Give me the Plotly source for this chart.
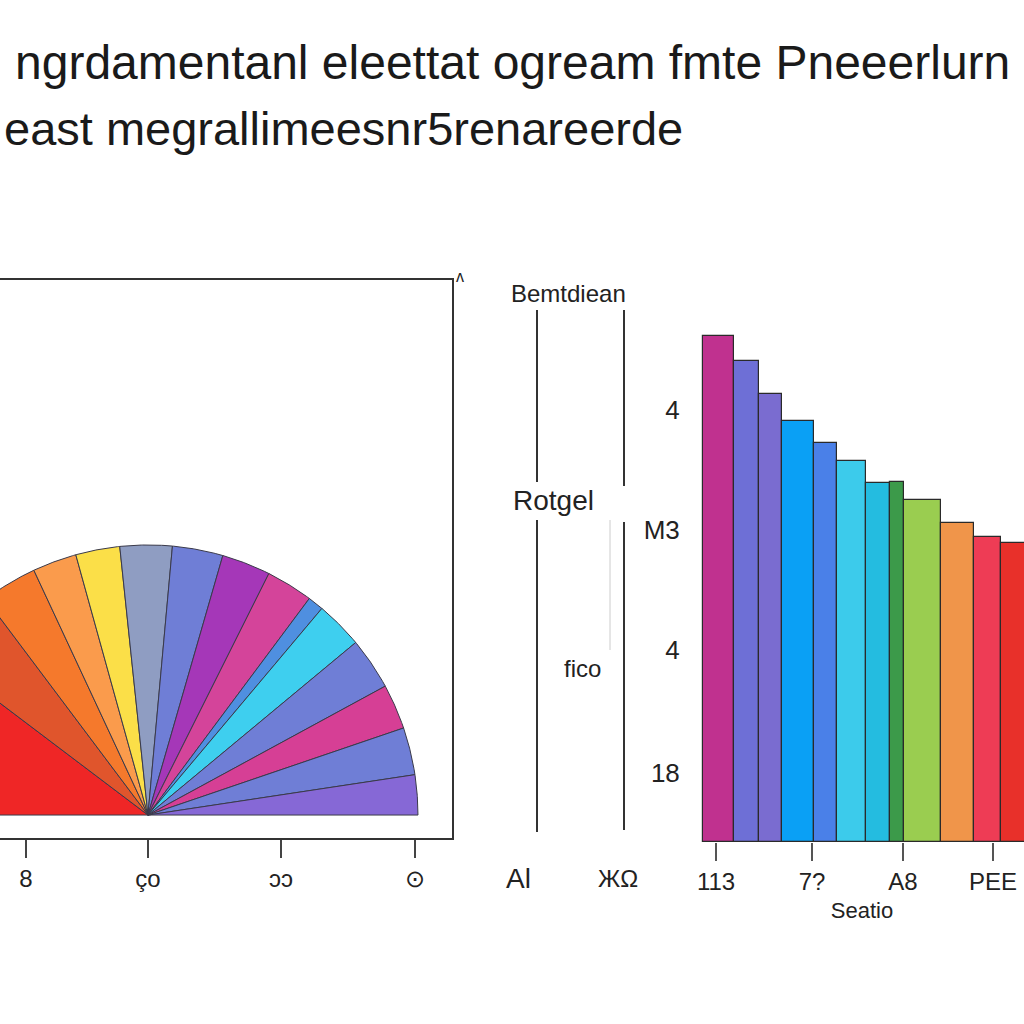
import numpy as np
import plotly.graph_objects as go

# ---------------- data ----------------
title_lines = ["ngrdamentanl eleettat ogream fmte Pneeerlurn",
               "east megrallimeesnr5renareerde"]

fan_labels = ["A", "B", "C", "D", "E", "F", "G", "H", "I", "J", "K", "L", "M", "N", "O"]
fan_degrees = [37.1, 16.0, 11.9, 9.5, 9.5, 11.2, 10.9, 10.5, 10.1, 3.4, 10.2, 11.2, 9.7, 10.2, 8.6]
fan_colors = ["#EF2626", "#E0552C", "#F5792C", "#FA9B4C", "#FBDF48", "#8F9DC2",
              "#6F7ED6", "#A537B8", "#D4449A", "#4F8FE0", "#3ECFEF", "#6F7ED6",
              "#D63F95", "#6F7ED6", "#8668D6"]
fan_tickvals = [-0.452, 0.0, 0.493, 0.989]
fan_ticktext = ["8", "ço", "ɔɔ", "⊙"]

bar_categories = ["b1", "b2", "b3", "b4", "b5", "b6", "b7", "b8", "b9", "b10", "b11", "b12"]
bar_widths = [31, 25, 23, 32, 23, 29, 24, 14, 37, 33, 27, 30]
bar_values = [506, 481, 448, 421, 399, 381, 359, 360, 342, 319, 305, 299]
bar_colors = ["#C0318F", "#6E6FD6", "#7A6CD0", "#0AA0F5", "#4A80E8", "#3CCBEB",
              "#24BCE0", "#3C9A4A", "#9ACD50", "#F0954A", "#EE3C55", "#E8302A"]
bar_tickvals = [13, 109, 200, 290]
bar_ticktext = ["113", "7?", "A8", "PEE"]
bar_ytickvals = [69, 192, 312, 432]
bar_yticktext = ["18", "4", "M3", "4"]

FONT = "Liberation Sans, Arial, sans-serif"
INK = "#222222"

fig = go.Figure()

# ---------------- fan (half pie) ----------------
start = 180.0
for lab, deg, col in zip(fan_labels, fan_degrees, fan_colors):
    a0, a1 = start, start - deg
    t = np.radians(np.linspace(a0, a1, 40))
    xs = np.concatenate([[0.0], np.cos(t), [0.0]])
    ys = np.concatenate([[0.0], np.sin(t), [0.0]])
    fig.add_trace(go.Scatter(x=xs, y=ys, fill="toself", fillcolor=col, mode="lines",
                             line=dict(color="#3a3a4a", width=1), name=lab,
                             showlegend=False, hoverinfo="name",
                             xaxis="x", yaxis="y"))
    start = a1

# ---------------- bars ----------------
lefts = np.concatenate([[0], np.cumsum(bar_widths)[:-1]])
centers = lefts + np.array(bar_widths) / 2.0
fig.add_trace(go.Bar(x=centers, y=bar_values, width=bar_widths,
                     marker=dict(color=bar_colors, line=dict(color="#2a2a2a", width=1.2)),
                     hovertext=bar_categories, showlegend=False,
                     xaxis="x2", yaxis="y2"))

def px(x):
    return x / 1024.0

def py(y):
    return 1 - y / 1024.0

fig.update_layout(
    width=1024, height=1024,
    margin=dict(l=0, r=0, t=0, b=0, autoexpand=False),
    paper_bgcolor="white", plot_bgcolor="white",
    font=dict(family=FONT, color=INK),
    bargap=0,
    xaxis=dict(domain=[0, px(452)], range=[-0.548, 1.126], anchor="y", automargin=False,
               showgrid=False, zeroline=False,
               showline=True, mirror=True, linecolor="#333333", linewidth=2,
               tickvals=fan_tickvals, ticktext=fan_ticktext, ticks="outside",
               ticklen=18, tickwidth=2, tickcolor="#444444", ticklabeloverflow="allow",
               tickfont=dict(size=24, color=INK)),
    yaxis=dict(domain=[py(838), py(280)], range=[-0.085, 1.981], anchor="x", automargin=False,
               showgrid=False, zeroline=False, showline=True, side="right",
               linecolor="#333333", linewidth=2, showticklabels=False, ticks=""),
    xaxis2=dict(domain=[px(700), 1.0], range=[-3, 321], anchor="y2", automargin=False,
                showgrid=False, zeroline=False,
                showline=False, tickvals=bar_tickvals, ticktext=bar_ticktext,
                ticks="outside", ticklen=18, tickwidth=1.5, tickcolor="#555555",
                ticklabeloverflow="allow",
                tickfont=dict(size=24, color=INK),
                title=dict(text="Seatio", font=dict(size=22, color=INK), standoff=8)),
    yaxis2=dict(domain=[py(842), py(320)], range=[0, 522], anchor="x2", automargin=False,
                showgrid=False, zeroline=False,
                showline=False, tickvals=bar_ytickvals, ticktext=bar_yticktext,
                ticks="outside", ticklen=14, tickcolor="white", ticklabeloverflow="allow",
                tickfont=dict(size=26, color=INK)),
)

# title lines
fig.add_annotation(text=title_lines[0], x=px(512), y=py(62), xref="paper", yref="paper",
                   xanchor="center", yanchor="middle", showarrow=False,
                   font=dict(size=48, color="#1a1a1a", family=FONT))
fig.add_annotation(text=title_lines[1], x=px(2), y=py(128), xref="paper", yref="paper",
                   xanchor="left", yanchor="middle", showarrow=False,
                   font=dict(size=47, color="#1a1a1a", family=FONT))

# middle panel labels
mid_labels = [("Bemtdiean", 568, 293, 24), ("Rotgel", 553, 500, 28), ("fico", 582, 668, 24),
              ("Al", 518, 878, 28), ("ЖΩ", 618, 878, 24), ("ʌ", 460, 276, 16)]
for txt, x, y, s in mid_labels:
    fig.add_annotation(text=txt, x=px(x), y=py(y), xref="paper", yref="paper",
                       xanchor="center", yanchor="middle", showarrow=False,
                       font=dict(size=s, color=INK, family=FONT))

# middle panel vertical rules
for x0, y0, y1, col, w in [(537, 310, 482, "#333333", 2), (537, 520, 832, "#333333", 2),
                           (624, 310, 486, "#333333", 2), (624, 522, 830, "#333333", 2),
                           (610, 520, 650, "#cccccc", 1)]:
    fig.add_shape(type="line", x0=px(x0), x1=px(x0), y0=py(y0), y1=py(y1),
                  xref="paper", yref="paper", line=dict(color=col, width=w))

fig.write_html("out.html")
